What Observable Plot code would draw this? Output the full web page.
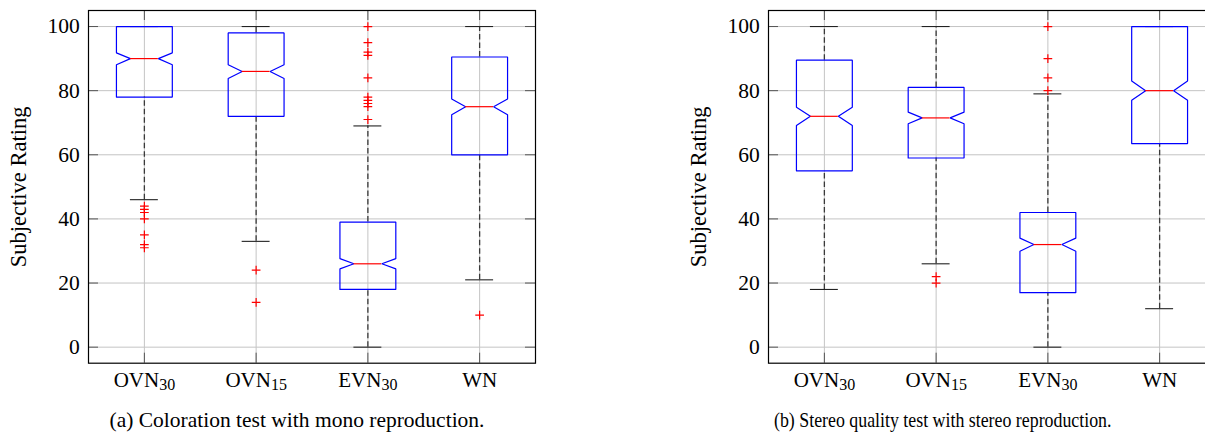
<!DOCTYPE html>
<html><head><meta charset="utf-8">
<script src="https://cdn.jsdelivr.net/npm/d3@7"></script>
<script src="https://cdn.jsdelivr.net/npm/@observablehq/plot@0.6"></script>
<style>
html,body{margin:0;padding:0;background:#fff;overflow:hidden;}
#page{position:relative;width:1205px;height:432px;overflow:hidden;font-family:"Liberation Serif","Times New Roman",serif;background:#fff;}
.panel{position:absolute;top:0;width:560px;height:400px;}
.panel svg{max-width:none !important;width:560px;height:400px;font-family:"Liberation Serif","Times New Roman",serif !important;}
.panel svg text{font-family:"Liberation Serif","Times New Roman",serif !important;}
.cap{position:absolute;font-size:21.5px;line-height:21.5px;white-space:nowrap;color:#000;transform-origin:0 0;}
</style></head><body><div id="page"></div>
<script>
// categories and tick labels
const categories = ["OVN30", "OVN15", "EVN30", "WN"];
const catBase = ["OVN", "OVN", "EVN", "WN"];
const catSub = ["30", "15", "30", ""];
const yTicks = [0, 20, 40, 60, 80, 100];
const yLabel = "Subjective Rating";

// (a) Coloration test with mono reproduction
const monoMedian   = [90, 86, 26, 75];
const monoQ1       = [78, 72, 18, 60];
const monoQ3       = [100, 98, 39, 90.5];
const monoNotchLo  = [88.1, 83.8, 24.4, 72.5];
const monoNotchHi  = [91.8, 88.1, 27.6, 77.4];
const monoWhiskLo  = [46, 33, 0, 21];
const monoWhiskHi  = [100, 100, 69, 100];
const monoOutliers = [[44, 43, 42, 40, 35, 32, 31], [24, 14], [100, 95, 92, 91, 84, 78, 77, 76, 75, 71], [10]];
const monoCaption  = "(a) Coloration test with mono reproduction.";

// (b) Stereo quality test with stereo reproduction
const stereoMedian   = [72, 71.5, 32, 80];
const stereoQ1       = [55, 59, 17, 63.5];
const stereoQ3       = [89.5, 81, 42, 100];
const stereoNotchLo  = [69.1, 69.7, 29.9, 77];
const stereoNotchHi  = [74.8, 73.3, 34, 83];
const stereoWhiskLo  = [18, 26, 0, 12];
const stereoWhiskHi  = [100, 100, 79, 100];
const stereoOutliers = [[], [22, 20], [100, 90, 84, 80], []];
const stereoCaption  = "(b) Stereo quality test with stereo reproduction.";

const FONT = "Liberation Serif, Times New Roman, serif";

function panel(d) {
  const W = 560, H = 400, mt = 10, mb = 37.3, ml = 88, mr = 25;
  const iw = W - ml - mr, ih = H - mt - mb;
  const idx = categories.map((_, i) => i + 1);
  const hw = 0.25, nw = 0.125;
  const boxes = [];
  idx.forEach((x, i) => {
    const v = [
      [x - hw, d.q1[i]], [x + hw, d.q1[i]], [x + hw, d.nlo[i]], [x + nw, d.med[i]],
      [x + hw, d.nhi[i]], [x + hw, d.q3[i]], [x - hw, d.q3[i]], [x - hw, d.nhi[i]],
      [x - nw, d.med[i]], [x - hw, d.nlo[i]], [x - hw, d.q1[i]]
    ];
    v.forEach(([vx, vy]) => boxes.push({g: i, x: vx, y: vy}));
  });
  const stats = idx.map((x, i) => ({x, med: d.med[i], q1: d.q1[i], q3: d.q3[i], lo: d.wlo[i], hi: d.whi[i]}));
  const outl = d.out.flatMap((arr, i) => arr.map(v => ({x: i + 1, y: v})));
  const svg = Plot.plot({
    width: W, height: H, marginTop: mt, marginBottom: mb, marginLeft: ml, marginRight: mr,
    style: {fontFamily: FONT, fontSize: "21px", background: "white", overflow: "visible", color: "#000"},
    x: {domain: [0.5, 4.5]},
    y: {domain: [-5, 105]},
    marks: [
      Plot.ruleY(yTicks, {stroke: "#c4c4c4", strokeWidth: 1}),
      Plot.ruleX(idx, {stroke: "#c4c4c4", strokeWidth: 1}),
      Plot.ruleY(yTicks, {insetRight: iw - 10, stroke: "#555"}),
      Plot.ruleY(yTicks, {insetLeft: iw - 10, stroke: "#555"}),
      Plot.ruleX(idx, {insetBottom: ih - 10, stroke: "#555"}),
      Plot.ruleX(idx, {insetTop: ih - 10, stroke: "#555"}),
      Plot.ruleX(stats, {x: "x", y1: "q3", y2: "hi", stroke: "#3a3a3a", strokeWidth: 1.3, strokeDasharray: "5.5,3"}),
      Plot.ruleX(stats, {x: "x", y1: "lo", y2: "q1", stroke: "#3a3a3a", strokeWidth: 1.3, strokeDasharray: "5.5,3"}),
      Plot.ruleY(stats, {y: "hi", x1: s => s.x - nw, x2: s => s.x + nw, stroke: "#222", strokeWidth: 1.1}),
      Plot.ruleY(stats, {y: "lo", x1: s => s.x - nw, x2: s => s.x + nw, stroke: "#222", strokeWidth: 1.1}),
      Plot.line(boxes, {x: "x", y: "y", z: "g", stroke: "#0000ff", strokeWidth: 1.2, strokeLinejoin: "miter"}),
      Plot.ruleY(stats, {y: "med", x1: s => s.x - nw, x2: s => s.x + nw, stroke: "#ff0000", strokeWidth: 1.2}),
      Plot.dot(outl, {x: "x", y: "y", symbol: "plus", r: 2.92, stroke: "#ff0000", strokeWidth: 1.2}),
      Plot.frame({stroke: "#000", strokeWidth: 1.2}),
      Plot.axisY({ticks: yTicks, tickSize: 0, tickPadding: 8.7, label: null, fontSize: 21.5, fontFamily: FONT}),
      Plot.axisX({ticks: idx, tickSize: 0, tickPadding: 9, tickFormat: i => categories[i - 1], label: null, fontSize: 21, fontFamily: FONT}),
      Plot.text([yLabel], {text: t => t, frameAnchor: "left", textAnchor: "middle", dx: -70, rotate: -90, fontSize: 22.5, fontFamily: FONT})
    ]
  });
  // subscripts in x tick labels
  svg.querySelectorAll('g[aria-label="x-axis tick label"] text').forEach(t => {
    const k = categories.indexOf(t.textContent.trim());
    if (k < 0) return;
    t.textContent = "";
    const a = document.createElementNS("http://www.w3.org/2000/svg", "tspan");
    a.textContent = catBase[k];
    t.appendChild(a);
    if (catSub[k]) {
      const b = document.createElementNS("http://www.w3.org/2000/svg", "tspan");
      b.textContent = catSub[k];
      b.setAttribute("font-size", "16px");
      b.setAttribute("dy", "2.5");
      t.appendChild(b);
    }
  });
  return svg;
}

const page = document.getElementById("page");
function addPanel(d, left, caption, capX, squeeze) {
  const div = document.createElement("div");
  div.className = "panel";
  div.style.left = left + "px";
  div.appendChild(panel(d));
  page.appendChild(div);
  const c = document.createElement("div");
  c.className = "cap";
  c.style.top = "410px";
  c.textContent = caption;
  page.appendChild(c);
  const w = c.getBoundingClientRect().width;
  c.style.left = (capX - w * squeeze / 2) + "px";
  c.style.transform = "scaleX(" + squeeze + ")";
}
addPanel({med: monoMedian, q1: monoQ1, q3: monoQ3, nlo: monoNotchLo, nhi: monoNotchHi, wlo: monoWhiskLo, whi: monoWhiskHi, out: monoOutliers}, 0, monoCaption, 297, 1);
addPanel({med: stereoMedian, q1: stereoQ1, q3: stereoQ3, nlo: stereoNotchLo, nhi: stereoNotchHi, wlo: stereoWhiskLo, whi: stereoWhiskHi, out: stereoOutliers}, 680, stereoCaption, 943, 0.83);
</script></body></html>
